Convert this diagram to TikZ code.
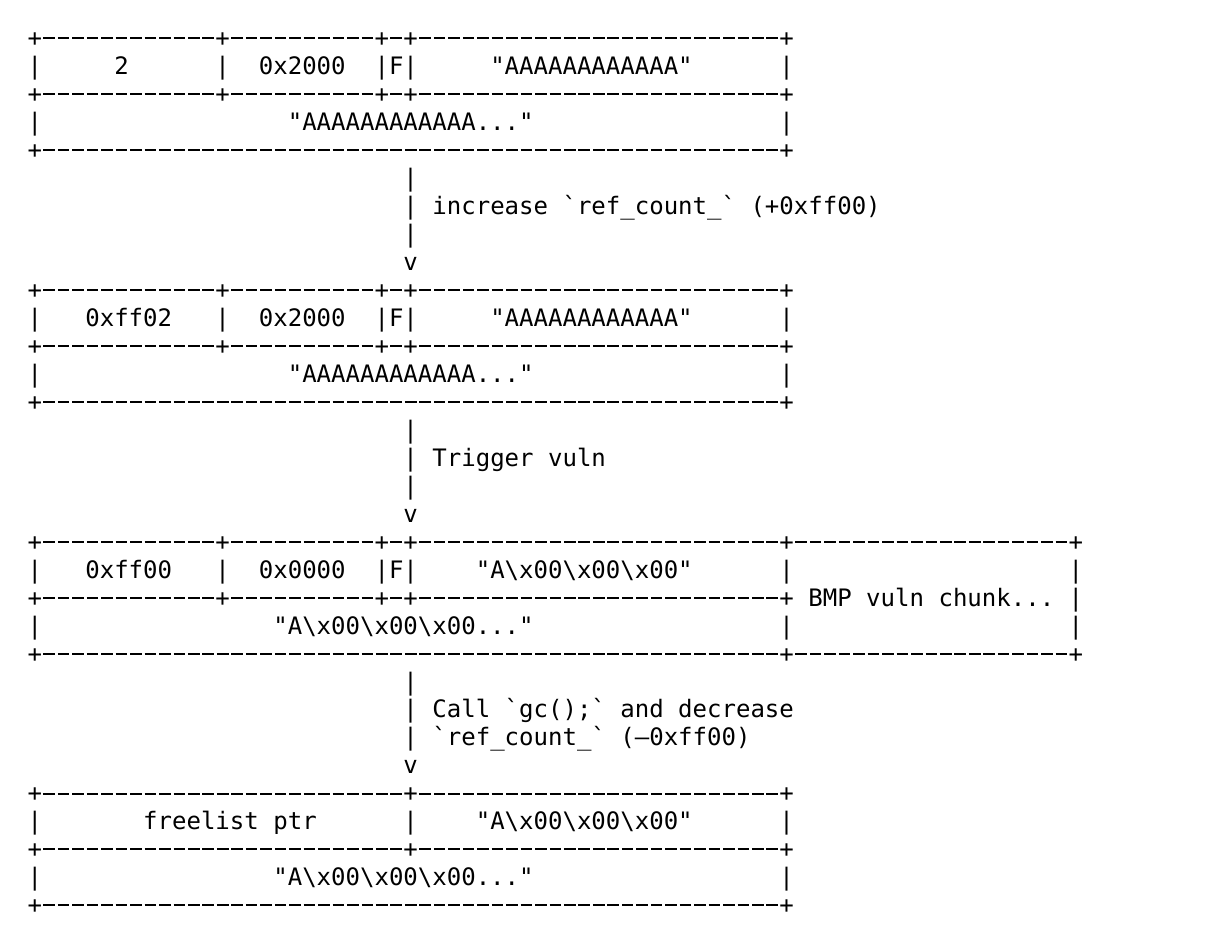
\documentclass[tikz,border=0pt]{standalone}
\usepackage{fontspec}
\setmonofont{DejaVu Sans Mono}
\newcommand\dd{\makebox[14.461pt]{\rule[7.4pt]{11.6pt}{2.0pt}}}
\ExplSyntaxOn
\cs_new:Npn \dsh #1 {\prg_replicate:nn{#1}{\dd}}
\ExplSyntaxOff
\newcommand\cell[4]{\node[txt] (#1) at (#2,#3) {#4};}
\newcommand\bs{\textbackslash}
\tikzset{txt/.style={anchor=base west, inner sep=0pt, outer sep=0pt,
  font=\ttfamily\fontsize{24.02}{28}\selectfont, text=black}}
\begin{document}
\begin{tikzpicture}
\useasboundingbox[fill=white] (0,0) rectangle (1206pt,-934pt);
\begin{scope}[x=14.461pt, y=-27.97pt, shift={(27.5pt,-46.7pt)}]
% ---- table 1
\cell{a0}{0}{0}{+\dsh{12}+\dsh{10}+\dd+\dsh{25}+}
\cell{a1a}{0}{1}{|}
\cell{a1b}{6}{1}{2}
\cell{a1c}{13}{1}{|}
\cell{a1d}{16}{1}{0x2000}
\cell{a1e}{24}{1}{|F|}
\cell{a1f}{32}{1}{"AAAAAAAAAAAA"}
\cell{a1g}{52}{1}{|}
\cell{a2}{0}{2}{+\dsh{12}+\dsh{10}+\dd+\dsh{25}+}
\cell{a3a}{0}{3}{|}
\cell{a3b}{18}{3}{"AAAAAAAAAAAA..."}
\cell{a3c}{52}{3}{|}
\cell{a4}{0}{4}{+\dsh{51}+}
% ---- arrow 1
\cell{b5}{26}{5}{|}
\cell{b6}{26}{6}{|}
\cell{b6t}{28}{6}{increase `ref\_count\_` (+0xff00)}
\cell{b7}{26}{7}{|}
\cell{b8}{26}{8}{v}
% ---- table 2
\cell{c9}{0}{9}{+\dsh{12}+\dsh{10}+\dd+\dsh{25}+}
\cell{c10a}{0}{10}{|}
\cell{c10b}{4}{10}{0xff02}
\cell{c10c}{13}{10}{|}
\cell{c10d}{16}{10}{0x2000}
\cell{c10e}{24}{10}{|F|}
\cell{c10f}{32}{10}{"AAAAAAAAAAAA"}
\cell{c10g}{52}{10}{|}
\cell{c11}{0}{11}{+\dsh{12}+\dsh{10}+\dd+\dsh{25}+}
\cell{c12a}{0}{12}{|}
\cell{c12b}{18}{12}{"AAAAAAAAAAAA..."}
\cell{c12c}{52}{12}{|}
\cell{c13}{0}{13}{+\dsh{51}+}
% ---- arrow 2
\cell{d14}{26}{14}{|}
\cell{d15}{26}{15}{|}
\cell{d15t}{28}{15}{Trigger vuln}
\cell{d16}{26}{16}{|}
\cell{d17}{26}{17}{v}
% ---- table 3
\cell{e18}{0}{18}{+\dsh{12}+\dsh{10}+\dd+\dsh{25}+\dsh{19}+}
\cell{e19a}{0}{19}{|}
\cell{e19b}{4}{19}{0xff00}
\cell{e19c}{13}{19}{|}
\cell{e19d}{16}{19}{0x0000}
\cell{e19e}{24}{19}{|F|}
\cell{e19f}{31}{19}{"A\bs x00\bs x00\bs x00"}
\cell{e19g}{52}{19}{|}
\cell{e19h}{72}{19}{|}
\cell{e20}{0}{20}{+\dsh{12}+\dsh{10}+\dd+\dsh{25}+}
\cell{e20b}{54}{20}{BMP vuln chunk...}
\cell{e20c}{72}{20}{|}
\cell{e21a}{0}{21}{|}
\cell{e21b}{17}{21}{"A\bs x00\bs x00\bs x00..."}
\cell{e21c}{52}{21}{|}
\cell{e21d}{72}{21}{|}
\cell{e22}{0}{22}{+\dsh{51}+\dsh{19}+}
% ---- arrow 3
\cell{f23}{26}{23}{|}
\cell{f24}{26}{24}{|}
\cell{f24t}{28}{24}{Call `gc();` and decrease}
\cell{f25}{26}{25}{|}
\cell{f25t}{28}{25}{`ref\_count\_` (–0xff00)}
\cell{f26}{26}{26}{v}
% ---- table 4
\cell{g27}{0}{27}{+\dsh{25}+\dsh{25}+}
\cell{g28a}{0}{28}{|}
\cell{g28b}{8}{28}{freelist ptr}
\cell{g28c}{26}{28}{|}
\cell{g28d}{31}{28}{"A\bs x00\bs x00\bs x00"}
\cell{g28e}{52}{28}{|}
\cell{g29}{0}{29}{+\dsh{25}+\dsh{25}+}
\cell{g30a}{0}{30}{|}
\cell{g30b}{17}{30}{"A\bs x00\bs x00\bs x00..."}
\cell{g30c}{52}{30}{|}
\cell{g31}{0}{31}{+\dsh{51}+}
\end{scope}
\end{tikzpicture}
\end{document}
